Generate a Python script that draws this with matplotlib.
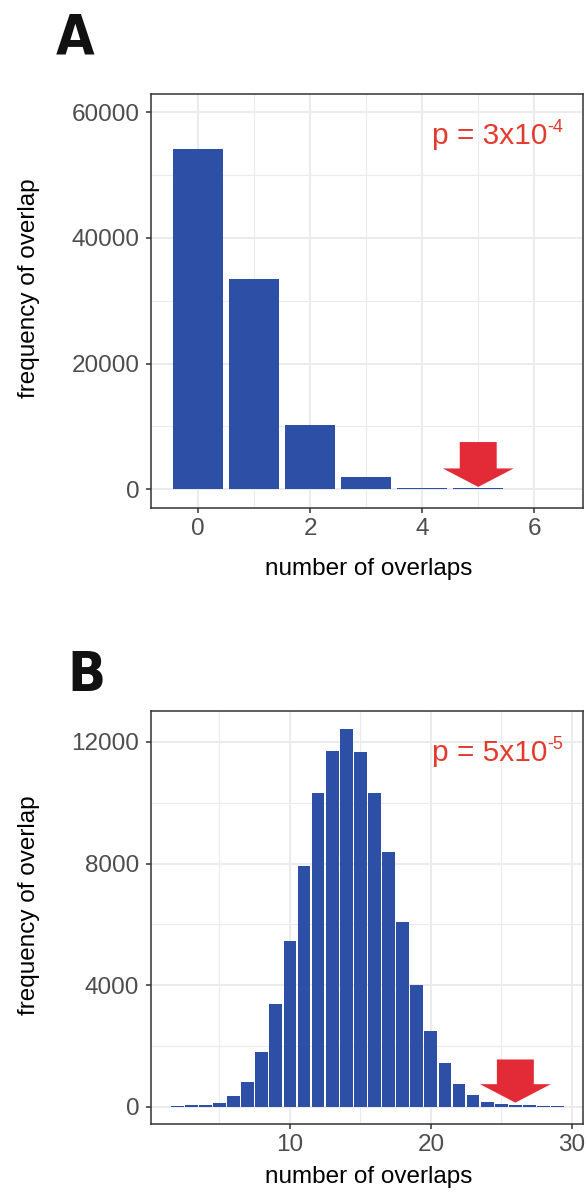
import matplotlib
matplotlib.use("Agg")
import matplotlib.pyplot as plt
from matplotlib.ticker import MultipleLocator

# panel A: overlaps 0..7
overlaps_a = [0, 1, 2, 3, 4, 5, 6, 7]
freq_a = [54160, 33470, 10230, 1960, 250, 150, 0, 50]
observed_a = 5
p_text_a = ("p = 3x10", "-4")

# panel B: overlaps 2..29
overlaps_b = list(range(2, 30))
freq_b = [20, 40, 60, 120, 360, 810, 1800, 3380, 5460, 7920, 10320, 11700,
          12420, 11670, 10320, 8380, 6070, 4000, 2490, 1440, 750, 380, 150,
          90, 50, 40, 30, 25]
observed_b = 26
p_text_b = ("p = 5x10", "-5")

BLUE = "#2D50A6"
RED_ARROW = "#E32B37"
RED_TEXT = "#E43A2E"
FONT = ["Liberation Sans", "DejaVu Sans"]

plt.rcParams["font.family"] = FONT

W, H = 588, 1197
fig = plt.figure(figsize=(W / 100, H / 100), dpi=100)


def style_axes(ax, xmaj, xmin, ymaj, ymin, xlab_y):
    ax.set_axisbelow(True)
    ax.xaxis.set_major_locator(MultipleLocator(xmaj))
    ax.xaxis.set_minor_locator(MultipleLocator(xmin))
    ax.yaxis.set_major_locator(MultipleLocator(ymaj))
    ax.yaxis.set_minor_locator(MultipleLocator(ymin))
    ax.grid(which="major", color="#EBEBEB", lw=1.4)
    ax.grid(which="minor", color="#EBEBEB", lw=0.8)
    for s in ax.spines.values():
        s.set_color("#333333")
        s.set_linewidth(1.1)
    ax.tick_params(which="major", length=3.4, width=1.1, color="#333333",
                   labelcolor="#4D4D4D", labelsize=17.5)
    ax.tick_params(axis="x", pad=3.7)
    ax.tick_params(axis="y", pad=5)
    ax.tick_params(which="minor", length=0)
    ax.set_xlabel("number of overlaps", fontsize=17.5, color="black", va="baseline")
    ax.set_ylabel("frequency of overlap", fontsize=17.5, color="black")
    ax.xaxis.set_label_coords(0.505, xlab_y)
    ax.yaxis.set_label_coords(-0.257, 0.53)


def add_p(ax, parts):
    t = ax.text(0.65, 0.88, parts[0], transform=ax.transAxes, ha="left",
                va="baseline", fontsize=21.5, color=RED_TEXT)
    ax.annotate(parts[1], xy=(1.0, 0.78), xycoords=t, ha="left", va="center",
                fontsize=13, color=RED_TEXT)


def add_arrow(ax, x, tip_pts):
    ax.annotate("", xy=(x, 0), xycoords="data",
                xytext=(0, 34), textcoords="offset points",
                arrowprops=dict(arrowstyle="simple,head_length=13.3,head_width=51,tail_width=26.6",
                                mutation_scale=1, shrinkA=0, shrinkB=tip_pts,
                                color=RED_ARROW, lw=0))


# ---- A ----
ax_a = fig.add_axes([151 / W, 1 - 508 / H, 432 / W, 414 / H])
ax_a.bar(overlaps_a, freq_a, width=0.9, color=BLUE, linewidth=0)
ax_a.set_xlim(-0.84, 6.87)
ax_a.set_ylim(-2980, 62900)
style_axes(ax_a, 2, 1, 20000, 10000, -67 / 414)
add_p(ax_a, p_text_a)
add_arrow(ax_a, observed_a, 1.7)

# ---- B ----
ax_b = fig.add_axes([151 / W, 1 - 1124 / H, 432 / W, 413 / H])
ax_b.bar(overlaps_b, freq_b, width=0.9, color=BLUE, linewidth=0)
ax_b.set_xlim(0.14, 30.8)
ax_b.set_ylim(-570, 13020)
style_axes(ax_b, 10, 5, 4000, 2000, -59 / 413)
add_p(ax_b, p_text_b)
add_arrow(ax_b, observed_b, 2.9)

# panel letters
for label, x, y in [("A", 56, 53.3), ("B", 67, 690.7)]:
    fig.text(x / W, 1 - y / H, label, fontsize=40, fontweight="bold",
             fontstretch="condensed", color="#111111",
             family=["DejaVu Sans", "Liberation Sans"], ha="left", va="baseline")

fig.savefig("out.png", dpi=100)
